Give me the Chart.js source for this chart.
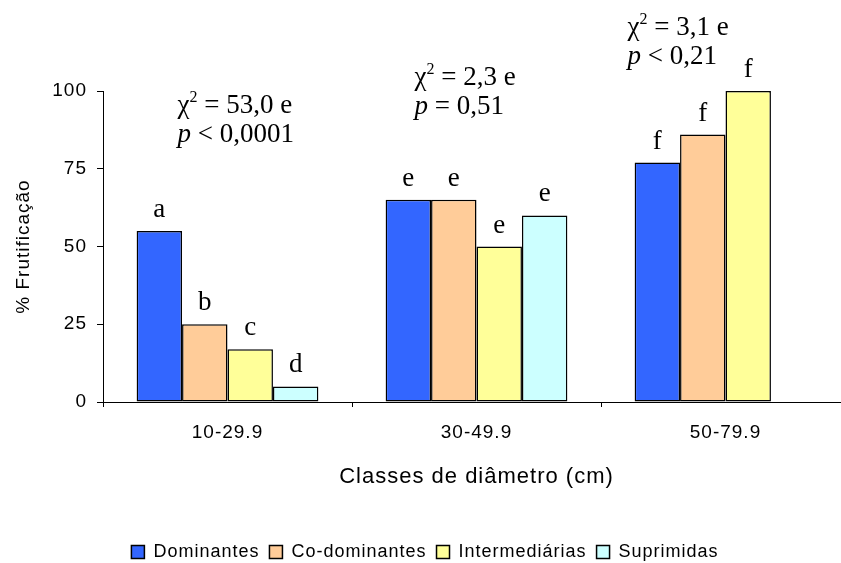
<!DOCTYPE html>
<html>
<head>
<meta charset="utf-8">
<script src="https://cdn.jsdelivr.net/npm/chart.js@4/dist/chart.umd.min.js"></script>
<style>
  html, body { margin: 0; padding: 0; background: #fff; overflow: hidden; }
  #wrap { width: 852px; height: 563px; }
</style>
</head>
<body>
<div id="wrap"><canvas id="grafico" width="852" height="563"></canvas></div>
<script>
// classes de diametro (eixo x)
const classes = ['10-29.9', '30-49.9', '50-79.9'];
const nomes = ['Dominantes', 'Co-dominantes', 'Intermediárias', 'Suprimidas'];
// % frutificacao por classe sociologica
const dominantes = [55, 65, 77];
const coDominantes = [25, 65, 86];
const intermediarias = [17, 50, 100];
const suprimidas = [5, 60, null];
// letras de significancia acima das barras
const letrasDom = ['a', 'e', 'f'];
const letrasCo = ['b', 'e', 'f'];
const letrasInt = ['c', 'e', 'f'];
const letrasSup = ['d', 'e', null];
// teste qui-quadrado por classe
const chiValor = ['53,0', '2,3', '3,1'];
const pSinal = ['<', '=', '<'];
const pValor = ['0,0001', '0,51', '0,21'];
const yTicks = [0, 25, 50, 75, 100];

const cores = ['#3366FF', '#FFCC99', '#FFFF99', '#CCFFFF'];
const series = [dominantes, coDominantes, intermediarias, suprimidas];
const letras = [letrasDom, letrasCo, letrasInt, letrasSup];

// onde fica o texto do qui-quadrado (indice da classe, deslocamento em px, altura no eixo y)
const posChi = [[0, -50, 93], [1, -62, 102], [2, -98, 118]];

const serif = '"Liberation Serif", "Times New Roman", serif';
const sans = '"Liberation Sans", Arial, sans-serif';

// texto do excel sai um pouco espacado
const espacamento = {
  id: 'espacamento',
  beforeLayout(chart) { chart.ctx.letterSpacing = '1px'; },
  beforeDraw(chart) { chart.ctx.letterSpacing = '1px'; }
};

const anotacoes = {
  id: 'anotacoes',
  afterDatasetsDraw(chart) {
    const ctx = chart.ctx;
    const x = chart.scales.x, y = chart.scales.y;
    ctx.save();
    ctx.letterSpacing = '0px';
    ctx.fillStyle = '#000';
    ctx.font = '27px ' + serif;
    ctx.textAlign = 'center';
    ctx.textBaseline = 'alphabetic';
    chart.data.datasets.forEach((ds, i) => {
      const meta = chart.getDatasetMeta(i);
      meta.data.forEach((bar, j) => {
        if (letras[i][j] == null || ds.data[j] == null) return;
        ctx.fillText(letras[i][j], bar.x, bar.y - 14);
      });
    });

    ctx.textAlign = 'left';
    posChi.forEach(([j, dx, v], k) => {
      let px = x.getPixelForValue(j) + dx;
      const py = y.getPixelForValue(v);
      ctx.font = '27px ' + serif;
      ctx.fillText('χ', px, py);
      px += ctx.measureText('χ').width;
      ctx.font = '16px ' + serif;
      ctx.fillText('2', px, py - 11);
      px += ctx.measureText('2').width;
      ctx.font = '27px ' + serif;
      ctx.fillText(' = ' + chiValor[k] + ' e', px, py);

      let qx = x.getPixelForValue(j) + dx;
      ctx.font = 'italic 27px ' + serif;
      ctx.fillText('p', qx, py + 29);
      qx += ctx.measureText('p').width;
      ctx.font = '27px ' + serif;
      ctx.fillText(' ' + pSinal[k] + ' ' + pValor[k], qx, py + 29);
    });
    ctx.restore();
  }
};

const datasets = series.map((s, i) => ({
  label: nomes[i],
  data: s,
  backgroundColor: cores[i],
  borderColor: '#000',
  borderWidth: 1.5,
  borderSkipped: false,
  barPercentage: 1.0,
  categoryPercentage: 0.73
}));

new Chart(document.getElementById('grafico'), {
  type: 'bar',
  data: { labels: classes, datasets: datasets },
  plugins: [espacamento, anotacoes],
  options: {
    responsive: false,
    animation: false,
    layout: { padding: { top: 91, right: 2, left: 0, bottom: -8 } },
    plugins: {
      tooltip: { enabled: false },
      legend: {
        position: 'bottom',
        labels: {
          color: '#000',
          font: { family: sans, size: 18 },
          boxWidth: 13,
          boxHeight: 13,
          padding: 10,
          generateLabels(chart) {
            return chart.data.datasets.map((ds, i) => ({
              text: ds.label,
              fillStyle: ds.backgroundColor,
              strokeStyle: '#000',
              lineWidth: 1.5,
              fontColor: '#000',
              datasetIndex: i
            }));
          }
        }
      }
    },
    scales: {
      x: {
        afterFit(scale) { scale.height = 131; },
        border: { color: '#000', width: 1 },
        grid: { display: true, drawOnChartArea: false, offset: true, tickLength: 5, color: '#000' },
        ticks: { color: '#000', font: { family: sans, size: 19 }, padding: 14 },
        title: {
          display: true,
          text: 'Classes de diâmetro (cm)',
          color: '#000',
          font: { family: sans, size: 22 },
          padding: { top: 0, bottom: 43 }
        }
      },
      y: {
        min: 0,
        max: 100,
        afterFit(scale) { scale.width = 103; },
        afterBuildTicks(scale) { scale.ticks = yTicks.map(v => ({ value: v })); },
        border: { color: '#000', width: 1 },
        grid: { display: true, drawOnChartArea: false, tickLength: 6, color: '#000' },
        ticks: { color: '#000', font: { family: sans, size: 19 }, padding: 10 },
        title: {
          display: true,
          text: '% Frutificação',
          color: '#000',
          font: { family: sans, size: 19 },
          padding: { top: 12, bottom: 0 }
        }
      }
    }
  }
});
</script>
</body>
</html>
